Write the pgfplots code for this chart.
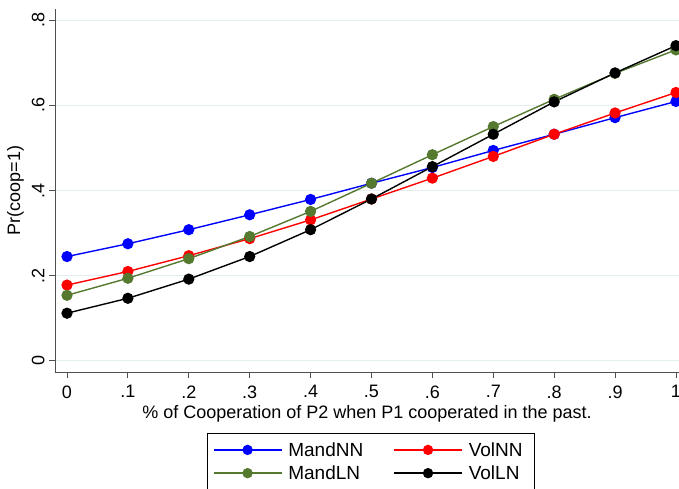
\documentclass[border=0pt]{standalone}
\usepackage{pgfplots}
\pgfplotsset{compat=1.18}
\usepackage{fontspec}
\setmainfont{Liberation Sans}
\definecolor{sgreen}{RGB}{85,121,47}
\definecolor{gridc}{RGB}{228,238,241}
\definecolor{axc}{RGB}{80,80,80}
\begin{document}
\begin{tikzpicture}
\begin{axis}[
  scale only axis,
  width=624bp, height=363bp,
  xmin=-0.0197, xmax=1.005,
  ymin=-0.026, ymax=0.826,
  axis x line*=bottom, axis y line*=left,
  axis line style={axc, line width=0.9bp, -},
  tick align=outside,
  major tick length=6bp,
  tick style={axc, line width=0.9bp},
  xtick={0,0.1,0.2,0.3,0.4,0.5,0.6,0.7,0.8,0.9,1},
  xticklabels={0,.1,.2,.3,.4,.5,.6,.7,.8,.9,1},
  ytick={0,0.2,0.4,0.6,0.8},
  yticklabels={0,.2,.4,.6,.8},
  yticklabel style={rotate=90, anchor=south, yshift=1bp, font=\fontsize{18bp}{20bp}\selectfont},
  xticklabel style={yshift=-4bp, font=\fontsize{18bp}{20bp}\selectfont},
  ymajorgrids, grid style={gridc, line width=0.9bp},
  xlabel={\% of Cooperation of P2 when P1 cooperated in the past.},
  ylabel={Pr(coop=1)},
  label style={font=\fontsize{18bp}{20bp}\selectfont},
  xlabel style={yshift=0bp},
  ylabel style={yshift=1bp},
  every axis plot/.append style={line width=1.4bp, mark=*, mark size=4.9bp},
  legend columns=2,
  legend style={at={(0.506,-0.168)}, anchor=north, draw=black, line width=0.6bp,
    font=\fontsize{19bp}{21bp}\selectfont, inner xsep=6bp, inner ysep=7bp,
    /tikz/every even column/.append style={column sep=24bp},
    /tikz/every odd column/.append style={column sep=0bp},
    nodes={inner xsep=6bp},
    row sep=4bp},
  legend image code/.code={
    \draw[#1, line width=1.5bp, mark size=4.4bp, mark repeat=2, mark phase=2] plot coordinates {(0bp,0bp) (34bp,0bp) (68bp,0bp)};
  },
  legend cell align=left,
]
\addplot[blue, mark options={fill=blue, draw=blue}] coordinates {
(0,0.245) (0.1,0.275) (0.2,0.308) (0.3,0.343) (0.4,0.379) (0.5,0.417) (0.6,0.454) (0.7,0.494) (0.8,0.532) (0.9,0.571) (1,0.609)};
\addlegendentry{MandNN}
\addplot[red, mark options={fill=red, draw=red}] coordinates {
(0,0.178) (0.1,0.210) (0.2,0.247) (0.3,0.287) (0.4,0.331) (0.5,0.380) (0.6,0.429) (0.7,0.480) (0.8,0.532) (0.9,0.582) (1,0.630)};
\addlegendentry{VolNN}
\addplot[sgreen, mark options={fill=sgreen, draw=sgreen}] coordinates {
(0,0.154) (0.1,0.194) (0.2,0.240) (0.3,0.292) (0.4,0.351) (0.5,0.417) (0.6,0.484) (0.7,0.550) (0.8,0.614) (0.9,0.675) (1,0.730)};
\addlegendentry{MandLN}
\addplot[black, mark options={fill=black, draw=black}] coordinates {
(0,0.112) (0.1,0.147) (0.2,0.192) (0.3,0.245) (0.4,0.308) (0.5,0.380) (0.6,0.456) (0.7,0.532) (0.8,0.608) (0.9,0.676) (1,0.740)};
\addlegendentry{VolLN}
\coordinate (sw) at (rel axis cs:0,0);
\end{axis}
\pgfresetboundingbox
\useasboundingbox (sw) ++(-55bp,-117bp) rectangle ++(679bp,489bp);
\end{tikzpicture}
\end{document}
